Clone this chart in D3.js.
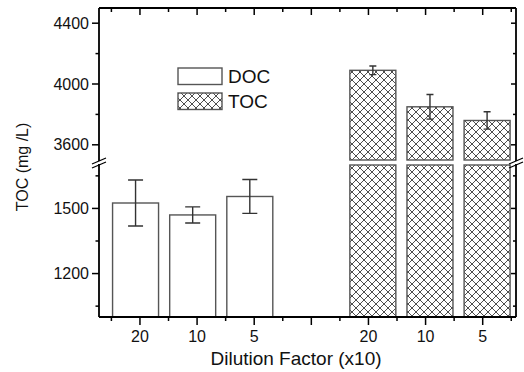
<!DOCTYPE html>
<html>
<head>
<meta charset="utf-8">
<script src="https://cdn.jsdelivr.net/npm/d3@7/dist/d3.min.js"></script>
<style>
  html, body { margin: 0; padding: 0; background: #fff; }
  svg { display: block; font-family: Arial, "Liberation Sans", sans-serif; }
</style>
</head>
<body>
<svg id="chart" width="524" height="372"></svg>
<script>
// ---- data ----
const xTickLabels = ["20", "10", "5", "", "20", "10", "5"];
const docPositions = [1, 2, 3];
const docValues = [1525, 1470, 1555];
const docErrors = [106, 37, 78];
const tocPositions = [5, 6, 7];
const tocValues = [4090, 3850, 3760];
const tocErrors = [28, 81, 57];
const yUpperMajor = [3600, 4000, 4400];
const yUpperMinor = [3800, 4200];
const yLowerMajor = [1200, 1500];
const yLowerMinor = [1050, 1350, 1650];
const seriesNames = ["DOC", "TOC"];

// ---- layout ----
const L = 99, R = 516, T = 8, B = 317;
const upperBottom = 160, lowerTop = 165;
const svg = d3.select("#chart");

const x = d3.scaleLinear().domain([0.283, 7.583]).range([L, R]);
const yU = d3.scaleLinear().domain([3500, 4500]).range([upperBottom, T]);
const yL = d3.scaleLinear().domain([1000, 1700]).range([B, lowerTop]);
const barW = 0.805;     // in x units
const offDOC = -0.077, offTOC = 0.077;

// hatch pattern
const defs = svg.append("defs");
const pat = defs.append("pattern").attr("id", "xhatch")
  .attr("patternUnits", "userSpaceOnUse").attr("width", 8).attr("height", 8);
pat.append("rect").attr("width", 8).attr("height", 8).attr("fill", "#fff");
pat.append("path").attr("d", "M0,0L8,8M0,8L8,0M-1,1L1,-1M7,9L9,7M-1,7L1,9M7,-1L9,1")
  .attr("stroke", "#3a3a3a").attr("stroke-width", 0.9).attr("fill", "none");

const barStroke = "#555", barSW = 1.4;

// DOC bars (lower segment)
svg.append("g").selectAll("rect").data(docValues).join("rect")
  .attr("x", (d, i) => x(docPositions[i] + offDOC - barW / 2))
  .attr("width", x(barW) - x(0))
  .attr("y", d => yL(d))
  .attr("height", d => yL(1000) - yL(d))
  .attr("fill", "#fff").attr("stroke", barStroke).attr("stroke-width", barSW);

// TOC bars: upper part and lower part
const tocG = svg.append("g");
tocG.selectAll("rect.up").data(tocValues).join("rect").attr("class", "up")
  .attr("x", (d, i) => x(tocPositions[i] + offTOC - barW / 2))
  .attr("width", x(barW) - x(0))
  .attr("y", d => yU(d))
  .attr("height", d => yU(3500) - yU(d))
  .attr("fill", "url(#xhatch)").attr("stroke", barStroke).attr("stroke-width", barSW);
tocG.selectAll("rect.lo").data(tocValues).join("rect").attr("class", "lo")
  .attr("x", (d, i) => x(tocPositions[i] + offTOC - barW / 2))
  .attr("width", x(barW) - x(0))
  .attr("y", yL(1700))
  .attr("height", yL(1000) - yL(1700))
  .attr("fill", "url(#xhatch)").attr("stroke", barStroke).attr("stroke-width", barSW);

// error bars
function errorBars(values, errors, positions, off, yScale, cap) {
  const g = svg.append("g").attr("stroke", "#333").attr("stroke-width", 1.4).attr("fill", "none");
  values.forEach((v, i) => {
    const cx = x(positions[i] + off);
    const y1 = yScale(v + errors[i]), y2 = yScale(v - errors[i]);
    g.append("path").attr("d",
      `M${cx},${y1}L${cx},${y2}M${cx - cap / 2},${y1}L${cx + cap / 2},${y1}M${cx - cap / 2},${y2}L${cx + cap / 2},${y2}`);
  });
}
errorBars(docValues, docErrors, docPositions, offDOC, yL, 15);
errorBars(tocValues, tocErrors, tocPositions, offTOC, yU, 7);

// frame
const axG = svg.append("g").attr("stroke", "#000").attr("stroke-width", 1.8).attr("fill", "none");
axG.append("path").attr("d", `M${L},${B}L${R},${B}`);
axG.append("path").attr("d", `M${L},${T}L${R},${T}`);
axG.append("path").attr("d", `M${L},${T}L${L},${upperBottom + 1}M${L},${lowerTop - 1}L${L},${B}`);
axG.append("path").attr("d", `M${R},${T}L${R},${upperBottom + 1}M${R},${lowerTop - 1}L${R},${B}`);
// break marks
[L, R].forEach(px => {
  svg.append("path").attr("d",
    `M${px - 7},${upperBottom + 4}L${px + 7},${upperBottom - 2}M${px - 7},${lowerTop + 3}L${px + 7},${lowerTop - 3}`)
    .attr("stroke", "#000").attr("stroke-width", 1.3);
});

// y ticks
const tickG = svg.append("g").attr("stroke", "#000").attr("stroke-width", 1.5);
function yTicks(scale, major, minor) {
  major.forEach(v => {
    tickG.append("line").attr("x1", L - 7).attr("x2", L).attr("y1", scale(v)).attr("y2", scale(v));
    tickG.append("line").attr("x1", R - 5).attr("x2", R).attr("y1", scale(v)).attr("y2", scale(v));
    svg.append("text").attr("x", L - 10).attr("y", scale(v)).attr("dy", "0.35em")
      .attr("text-anchor", "end").attr("font-size", 16).attr("fill", "#111").text(v);
  });
  minor.forEach(v => {
    tickG.append("line").attr("x1", L - 3.5).attr("x2", L).attr("y1", scale(v)).attr("y2", scale(v));
    tickG.append("line").attr("x1", R - 3).attr("x2", R).attr("y1", scale(v)).attr("y2", scale(v));
  });
}
yTicks(yU, yUpperMajor, yUpperMinor);
yTicks(yL, yLowerMajor, yLowerMinor);

// x ticks
xTickLabels.forEach((lab, i) => {
  const px = x(i + 1);
  tickG.append("line").attr("x1", px).attr("x2", px).attr("y1", B).attr("y2", B + 8);
  tickG.append("line").attr("x1", px).attr("x2", px).attr("y1", T).attr("y2", T + 7);
  if (lab) svg.append("text").attr("x", px).attr("y", B + 25).attr("text-anchor", "middle")
    .attr("font-size", 16).attr("fill", "#111").text(lab);
});
d3.range(0.5, 8, 1).forEach(v => {
  const px = x(v);
  tickG.append("line").attr("x1", px).attr("x2", px).attr("y1", B).attr("y2", B + 4);
  tickG.append("line").attr("x1", px).attr("x2", px).attr("y1", T).attr("y2", T + 4);
});

// axis titles
svg.append("text").attr("x", 296).attr("y", 365).attr("text-anchor", "middle")
  .attr("font-size", 19).attr("fill", "#111").text("Dilution Factor (x10)");
svg.append("text").attr("transform", "translate(28,167) rotate(-90)").attr("text-anchor", "middle")
  .attr("font-size", 16).attr("fill", "#111").text("TOC (mg /L)");

// legend
const legY = [68, 93];
const legFill = ["#fff", "url(#xhatch)"];
seriesNames.forEach((name, i) => {
  svg.append("rect").attr("x", 178).attr("y", legY[i]).attr("width", 44).attr("height", 16.5)
    .attr("fill", legFill[i]).attr("stroke", barStroke).attr("stroke-width", barSW);
  svg.append("text").attr("x", 228).attr("y", legY[i] + 14.5).attr("font-size", 19)
    .attr("fill", "#111").text(name);
});
</script>
</body>
</html>
